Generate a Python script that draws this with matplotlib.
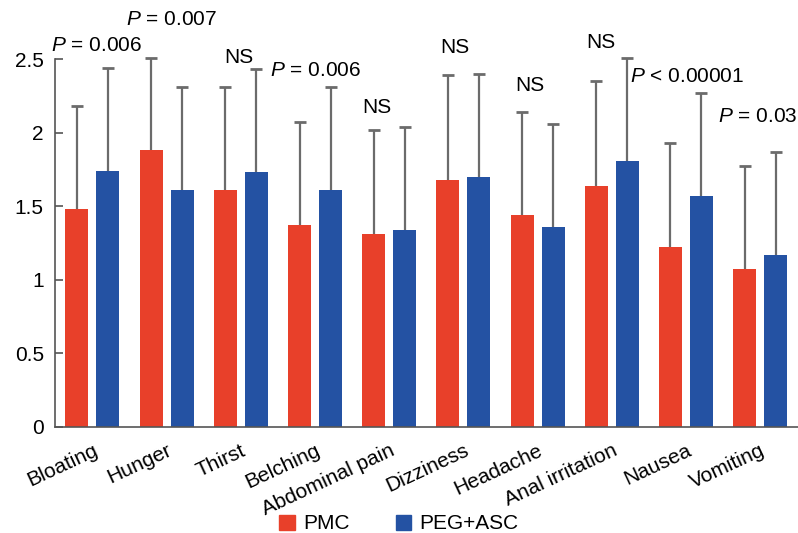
import numpy as np
import matplotlib
matplotlib.use("Agg")
import matplotlib.pyplot as plt
import matplotlib.transforms as mtransforms
from matplotlib.patches import Patch

plt.rcParams['font.family'] = ['Liberation Sans', 'DejaVu Sans']
plt.rcParams['mathtext.fontset'] = 'custom'
plt.rcParams['mathtext.it'] = 'Liberation Sans:italic'
plt.rcParams['mathtext.rm'] = 'Liberation Sans'

# data
symptoms = ["Bloating", "Hunger", "Thirst", "Belching", "Abdominal pain",
            "Dizziness", "Headache", "Anal irritation", "Nausea", "Vomiting"]
pmc_mean = [1.48, 1.88, 1.61, 1.37, 1.31, 1.68, 1.44, 1.64, 1.22, 1.07]
pmc_sd = [0.70, 0.63, 0.70, 0.70, 0.71, 0.71, 0.70, 0.71, 0.71, 0.70]
peg_mean = [1.74, 1.61, 1.73, 1.61, 1.34, 1.70, 1.36, 1.81, 1.57, 1.17]
peg_sd = [0.70, 0.70, 0.70, 0.70, 0.70, 0.70, 0.70, 0.70, 0.70, 0.70]

# p-value labels: text, x position (group index), y (data units)
p_labels = ["$P$ = 0.006", "$P$ = 0.007", "NS", "$P$ = 0.006", "NS",
            "NS", "NS", "NS", "$P$ < 0.00001", "$P$ = 0.03"]
p_x = [0.06, 1.06, 1.97, 3.0, 3.84, 4.89, 5.9, 6.85, 8.02, 8.97]
p_y = [2.595, 2.765, 2.51, 2.425, 2.17, 2.575, 2.32, 2.61, 2.38, 2.11]

red = "#e8402a"
blue = "#2452a3"
grey = "#6b6b6b"

fig = plt.figure(figsize=(7.98, 5.33), dpi=100)
ax = fig.add_axes([0.0689, 0.1989, 0.9311, 0.6904])

x = np.arange(len(symptoms))
w = 0.31
off = 0.209
fs = 15

# upper error bars only: stem plus a small cap
for xs, m, sd in ((x - off, pmc_mean, pmc_sd), (x + off, peg_mean, peg_sd)):
    top = np.array(m) + np.array(sd)
    ax.vlines(xs, m, top, color=grey, lw=1.6, zorder=1, clip_on=False)
    ax.plot(xs, top, ls="none", marker="_", ms=8, mew=2, color=grey,
            zorder=1, clip_on=False)

ax.bar(x - off, pmc_mean, w, color=red, zorder=2)
ax.bar(x + off, peg_mean, w, color=blue, zorder=2)

for t, px, py in zip(p_labels, p_x, p_y):
    ax.text(px, py, t, ha="center", va="center", fontsize=fs,
            clip_on=False)

ax.set_xlim(-0.505, 9.51)
ax.set_ylim(0, 2.5)
ax.set_yticks([0, 0.5, 1, 1.5, 2, 2.5])
ax.set_yticklabels(["0", "0.5", "1", "1.5", "2", "2.5"], fontsize=fs)
ax.set_xticks(x)
ax.set_xticklabels(symptoms, rotation=25, ha="right", rotation_mode="anchor",
                   fontsize=fs)
shift = mtransforms.ScaledTranslation(-6 / 100, -2 / 100, fig.dpi_scale_trans)
for lab in ax.get_xticklabels():
    lab.set_transform(lab.get_transform() + shift)
ax.tick_params(axis="x", length=0, pad=10)
ax.tick_params(axis="y", direction="in", length=6, width=1.2,
               color="#555555", pad=8)

for s in ("top", "right"):
    ax.spines[s].set_visible(False)
for s in ("left", "bottom"):
    ax.spines[s].set_color("#555555")
    ax.spines[s].set_linewidth(1.2)

handles = [Patch(color=red, label="PMC"), Patch(color=blue, label="PEG+ASC")]
fig.legend(handles=handles, loc="center", bbox_to_anchor=(0.5, 0.017),
           ncol=2, frameon=False, fontsize=fs, handlelength=0.75,
           handleheight=0.75, handletextpad=0.4, columnspacing=2.2)

fig.savefig("out.png", dpi=100)
